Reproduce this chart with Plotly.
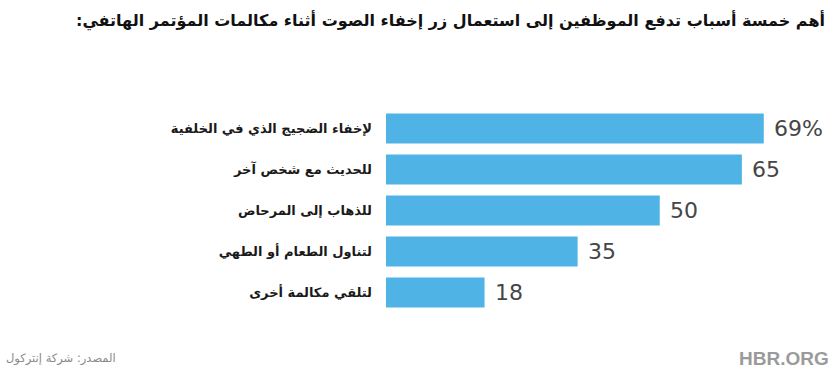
import plotly.graph_objects as go

title = "أهم خمسة أسباب تدفع الموظفين إلى استعمال زر إخفاء الصوت أثناء مكالمات المؤتمر الهاتفي:"
categories = [
    "لإخفاء الضجيج الذي في الخلفية",
    "للحديث مع شخص آخر",
    "للذهاب إلى المرحاض",
    "لتناول الطعام أو الطهي",
    "لتلقي مكالمة أخرى",
]
values = [69, 65, 50, 35, 18]
value_labels = ["69%", "65", "50", "35", "18"]
source = "المصدر: شركة إنتركول"
brand = "HBR.ORG"

W, Hfig = 835, 371
L, R, T, B = 386, 11, 108, 58
PW, PH = W - L - R, Hfig - T - B

fig = go.Figure()
fig.add_trace(go.Bar(
    x=values, y=categories, orientation="h",
    marker=dict(color="#4fb3e6", line=dict(width=0)),
    width=0.73, hoverinfo="skip",
))

anns = []
for v, c, t in zip(values, categories, value_labels):
    anns.append(dict(x=v, y=c, text=t, showarrow=False, xanchor="left",
                     xshift=8, font=dict(family="DejaVu Sans", size=22, color="#464646")))

anns.append(dict(xref="paper", yref="paper",
                 x=(827 - L) / PW, y=1 + (T - 20) / PH,
                 xanchor="right", yanchor="middle",
                 text="<b>" + title + "\u200f</b>", showarrow=False,
                 font=dict(family="DejaVu Sans", size=16, color="#111111")))
anns.append(dict(xref="paper", yref="paper",
                 x=(4 - L) / PW, y=-(358 - (Hfig - B)) / PH,
                 xanchor="left", yanchor="middle",
                 text=source, showarrow=False,
                 font=dict(family="DejaVu Sans", size=11.5, color="#8a8a8a")))
anns.append(dict(xref="paper", yref="paper",
                 x=(831 - L) / PW, y=-(358 - (Hfig - B)) / PH,
                 xanchor="right", yanchor="middle",
                 text="<b>" + brand + "</b>", showarrow=False,
                 font=dict(family="Liberation Sans Narrow, Liberation Sans", size=19, color="#9a9a9a")))

fig.update_layout(
    width=W, height=Hfig,
    margin=dict(l=L, r=R, t=T, b=B, autoexpand=False),
    paper_bgcolor="white", plot_bgcolor="white",
    showlegend=False,
    xaxis=dict(range=[0, 80], visible=False, fixedrange=True),
    yaxis=dict(autorange="reversed", showgrid=False, zeroline=False, showline=False,
               ticks="", ticklabelstandoff=13, fixedrange=True,
               tickfont=dict(family="DejaVu Sans", size=13, color="#1a1a1a", weight="bold")),
    annotations=anns,
)

fig.write_html("out.html", config={"displayModeBar": False},
               post_script="document.body.style.margin='0';")
